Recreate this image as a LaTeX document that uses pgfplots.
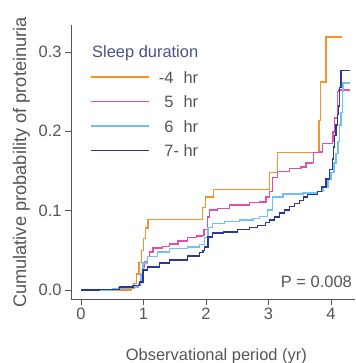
\documentclass[border=0pt]{standalone}
\usepackage{fontspec}
\setmainfont{Liberation Sans}
\usepackage{pgfplots}
\pgfplotsset{compat=1.18}
\definecolor{cOrange}{RGB}{245,146,45}
\definecolor{cPink}{RGB}{226,78,172}
\definecolor{cLight}{RGB}{112,192,240}
\definecolor{cDark}{RGB}{42,56,150}
\definecolor{txt}{RGB}{85,85,85}
\definecolor{ttl}{RGB}{72,82,135}
\newcommand{\fs}{\fontsize{16.5}{19}\selectfont}
\newcommand{\fsy}{\fontsize{18.3}{21}\selectfont}
\begin{document}
\begin{tikzpicture}
\useasboundingbox (0,0) rectangle (356bp,363bp);
\begin{axis}[
  at={(71bp,64bp)}, anchor=south west,
  scale only axis, width=284bp, height=274bp,
  xmin=-0.16, xmax=4.384, ymin=-0.01135, ymax=0.334,
  axis x line=bottom, axis y line=left,
  axis line style={-, draw=txt, line width=0.8bp},
  tick style={draw=txt, line width=0.8bp},
  tick align=outside, major tick length=6bp,
  xtick={0,1,2,3,4}, ytick={0,0.1,0.2,0.3},
  /pgf/number format/assume math mode=true,
  yticklabel style={/pgf/number format/fixed, /pgf/number format/fixed zerofill, /pgf/number format/precision=1},
  ticklabel style={font=\fs, text=txt},
  xlabel={Observational period (yr)},
  ylabel={Cumulative probability of proteinuria},
  xlabel style={font=\fs, text=txt, at={(axis description cs:0.512,-0.226)}, anchor=base},
  ylabel style={font=\fsy, text=txt, at={(axis description cs:-0.158,0.498)}, anchor=base, rotate=0},
  legend cell align=left,
  legend style={at={(axis description cs:0.0669,0.832)}, anchor=north west, draw=none, fill=none,
     inner sep=0pt, outer sep=0pt, row sep=12.5bp, font=\fs, text=txt,
     nodes={inner sep=0pt, text height=12bp, text depth=0pt}},
  legend image code/.code={\draw[#1] (0bp,0bp) -- (58bp,0bp);},
]
\addplot[draw=cOrange, line width=1.4bp, const plot, mark=none] coordinates {
(0,0) (0.80,0.002) (0.85,0.008) (0.89,0.020) (0.93,0.035) (0.97,0.050) (1.00,0.065)
(1.03,0.078) (1.07,0.089) (1.94,0.104) (1.99,0.117) (2.12,0.127) (3.02,0.148)
(3.14,0.173) (3.81,0.214) (3.83,0.262) (3.92,0.319) (4.18,0.319)};
\addlegendentry{\hspace{15bp}\llap{-}4\hspace{10bp}hr}
\addplot[draw=cPink, line width=1.4bp, const plot, mark=none] coordinates {
(0,0) (0.30,0.001) (0.60,0.003) (0.80,0.004) (0.90,0.006) (0.95,0.015) (0.98,0.029)
(1.02,0.036) (1.06,0.042) (1.10,0.048) (1.15,0.053) (1.30,0.055) (1.42,0.058)
(1.55,0.062) (1.70,0.066) (1.85,0.068) (1.94,0.069) (1.97,0.076) (2.02,0.092)
(2.06,0.101) (2.18,0.103) (2.38,0.107) (2.70,0.110) (2.86,0.111) (2.96,0.117)
(3.02,0.124) (3.06,0.142) (3.14,0.149) (3.34,0.153) (3.52,0.155) (3.60,0.160)
(3.70,0.161) (3.72,0.173) (3.82,0.174) (3.86,0.185) (4.02,0.187) (4.03,0.199)
(4.06,0.217) (4.10,0.250) (4.13,0.252) (4.30,0.252)};
\addlegendentry{\hspace{15bp}5\hspace{10bp}hr}
\addplot[draw=cLight, line width=1.4bp, const plot, mark=none] coordinates {
(0,0) (0.50,0.002) (0.80,0.004) (0.92,0.008) (0.96,0.020) (0.99,0.034) (1.06,0.042)
(1.22,0.048) (1.42,0.052) (1.70,0.054) (1.90,0.057) (1.98,0.066) (2.03,0.079)
(2.10,0.084) (2.30,0.086) (2.54,0.088) (2.75,0.090) (2.86,0.093) (2.98,0.101)
(3.06,0.117) (3.23,0.121) (3.55,0.122) (3.78,0.124) (3.87,0.130) (3.95,0.139)
(4.00,0.148) (4.05,0.160) (4.08,0.172) (4.11,0.187) (4.14,0.208) (4.16,0.224)
(4.18,0.250) (4.19,0.261) (4.30,0.261)};
\addlegendentry{\hspace{15bp}6\hspace{10bp}hr}
\addplot[draw=cDark, line width=1.4bp, const plot, mark=none] coordinates {
(0,0) (0.30,0.001) (0.62,0.004) (0.83,0.006) (0.94,0.010) (0.99,0.025) (1.06,0.029)
(1.26,0.034) (1.42,0.038) (1.70,0.043) (1.90,0.047) (1.95,0.050) (1.98,0.054)
(2.03,0.067) (2.10,0.072) (2.28,0.073) (2.50,0.076) (2.70,0.079) (2.82,0.081)
(2.95,0.085) (3.02,0.088) (3.10,0.092) (3.18,0.097) (3.26,0.101) (3.34,0.105)
(3.42,0.109) (3.50,0.113) (3.56,0.117) (3.62,0.120) (3.78,0.124) (3.85,0.130)
(3.92,0.140) (3.98,0.152) (4.02,0.165) (4.04,0.180) (4.06,0.195) (4.08,0.208)
(4.10,0.221) (4.12,0.232) (4.14,0.255) (4.16,0.277) (4.30,0.277)};
\addlegendentry{\hspace{15bp}7\rlap{-}\hspace{10bp}hr}
\end{axis}
\node[anchor=base west, font=\fs, text=ttl, inner sep=0pt] at (92bp,305bp) {Sleep duration};
\node[anchor=base east, font=\fs, text=txt, inner sep=0pt] at (352bp,75bp) {P = 0.008};
\end{tikzpicture}
\end{document}
